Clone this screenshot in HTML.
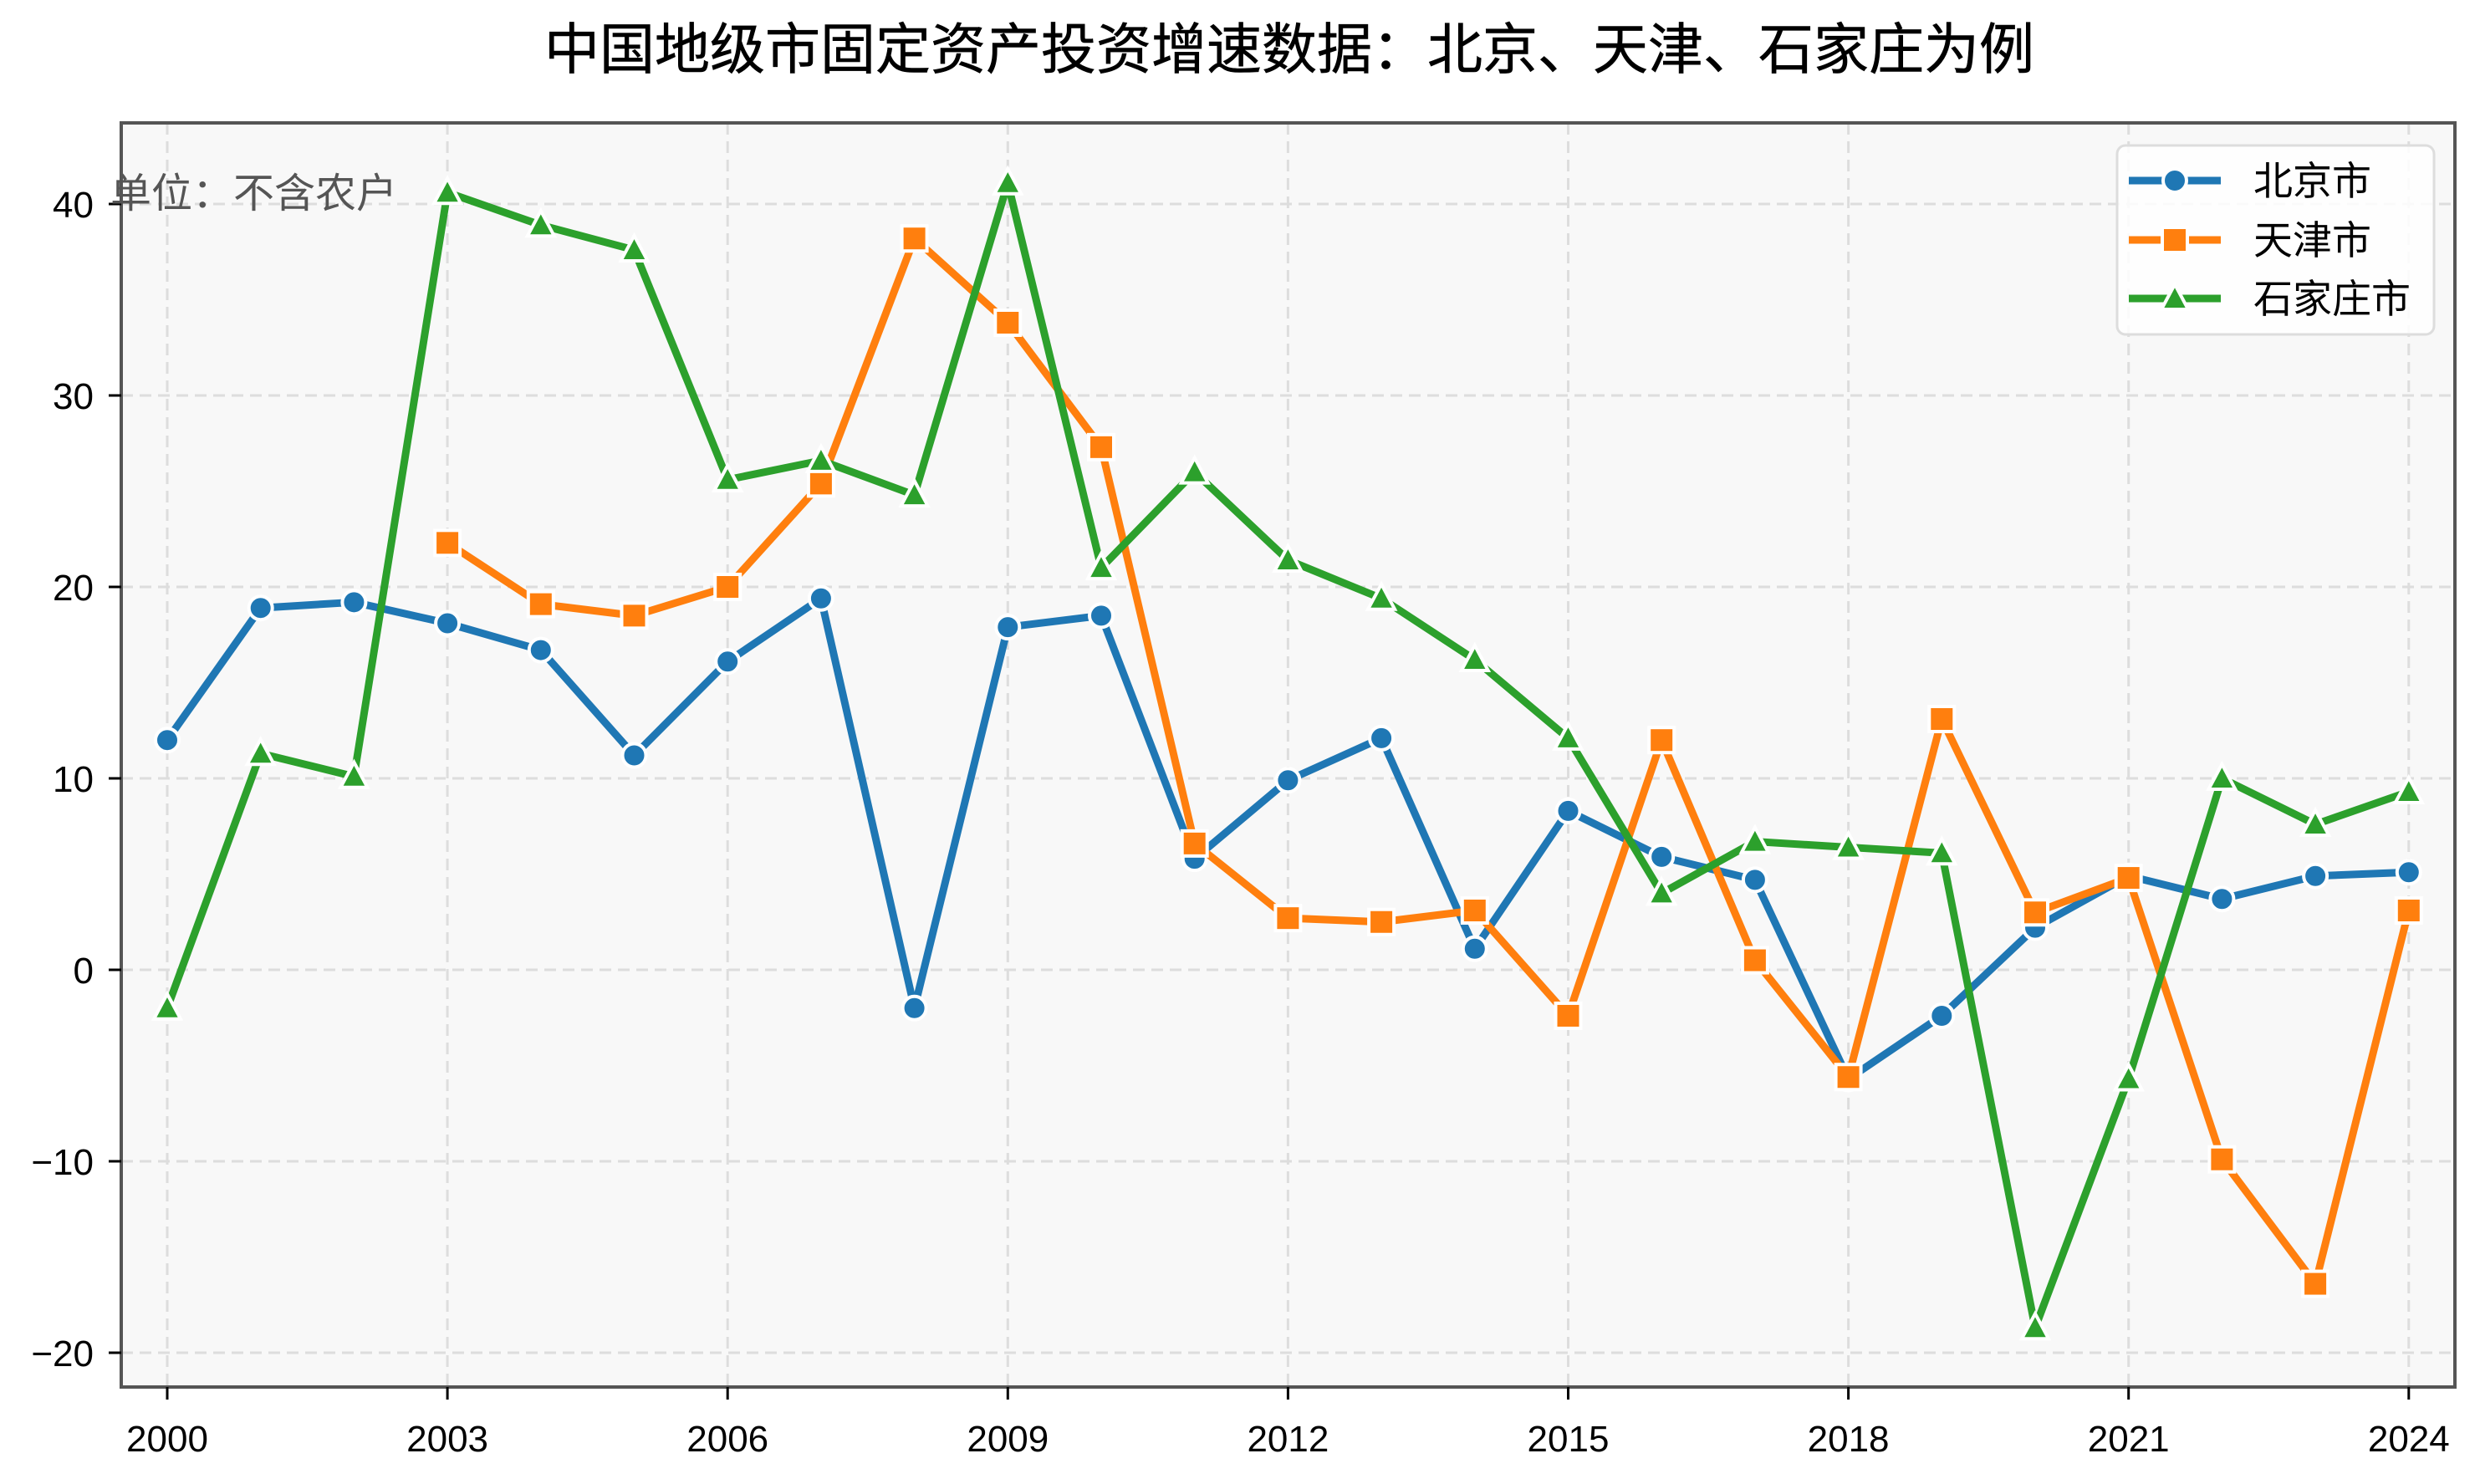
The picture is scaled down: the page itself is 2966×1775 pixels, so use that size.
<!DOCTYPE html>
<html><head><meta charset="utf-8"><style>
html,body{margin:0;padding:0;background:#fff}
svg text{font-family:"Liberation Sans","Noto Sans CJK SC",sans-serif}
</style></head><body>
<svg id="s" width="2966" height="1770" xmlns="http://www.w3.org/2000/svg">
<rect x="0" y="0" width="2966" height="1770" fill="#fff"/>
<text x="1542" y="82" font-size="66" text-anchor="middle" fill="#000" stroke="#000" stroke-width="0.6">中国地级市固定资产投资增速数据：北京、天津、石家庄为例</text>
<rect x="145" y="147" width="2791" height="1512" fill="#f8f8f8"/>
<g id="grid"></g>
<g id="series"></g>
<rect x="145" y="147" width="2791" height="1512" fill="none" stroke="#555" stroke-width="4"/>
<g id="ticks"></g>
<text x="132" y="248" font-size="49" fill="#555">单位：不含农户</text>
<rect x="2532" y="174" width="379" height="226" rx="10" fill="#fff" fill-opacity="0.85" stroke="#ddd" stroke-width="3"/>
<g id="legend"></g>
</svg>
<script>
const NS="http://www.w3.org/2000/svg";
function el(p,t,a,txt){const e=document.createElementNS(NS,t);for(const k in a)e.setAttribute(k,a[k]);if(txt!==undefined)e.textContent=txt;document.getElementById(p).appendChild(e);return e;}
const X=y=>200+(y-2000)*111.7, Y=v=>1160-v*22.9;
for(let y=2000;y<=2024;y+=3){el('grid','line',{x1:X(y),x2:X(y),y1:147,y2:1659,stroke:'#ddd','stroke-width':3,'stroke-dasharray':'14,8'});
 el('ticks','line',{x1:X(y),x2:X(y),y1:1659,y2:1674,stroke:'#000','stroke-width':3});
 el('ticks','text',{x:X(y),y:1736,'font-size':44,'text-anchor':'middle'},String(y));}
for(let v=-20;v<=40;v+=10){el('grid','line',{x1:145,x2:2936,y1:Y(v),y2:Y(v),stroke:'#ddd','stroke-width':3,'stroke-dasharray':'14,8'});
 el('ticks','line',{x1:130,x2:145,y1:Y(v),y2:Y(v),stroke:'#000','stroke-width':3});
 el('ticks','text',{x:112,y:Y(v)+16,'font-size':44,'text-anchor':'end'},(v<0?'−':'')+Math.abs(v));}
const bj=[12,18.9,19.2,18.1,16.7,11.2,16.1,19.4,-2,17.9,18.5,5.8,9.9,12.1,1.1,8.3,5.9,4.7,-5.7,-2.4,2.2,4.9,3.7,4.9,5.1];
const tj=[null,null,null,22.3,19.1,18.5,20.0,25.4,38.2,33.8,27.3,6.6,2.7,2.5,3.1,-2.4,12.0,0.5,-5.6,13.1,3.0,4.8,-9.9,-16.4,3.1];
const sj=[-2.0,11.3,10.1,40.6,38.9,37.6,25.6,26.6,24.8,41.1,21.0,26.0,21.4,19.4,16.2,12.1,4.0,6.7,6.4,6.1,-18.7,-5.7,10.0,7.6,9.3];
function marker(g,type,x,y,c){
 if(type==0)el(g,'circle',{cx:x,cy:y,r:14,fill:c,stroke:'#fff','stroke-width':4});
 else if(type==1)el(g,'rect',{x:x-15,y:y-15,width:30,height:30,fill:c,stroke:'#fff','stroke-width':4});
 else el(g,'polygon',{points:`${x},${y-17} ${x+16},${y+13} ${x-16},${y+13}`,fill:c,stroke:'#fff','stroke-width':4});
}
[[bj,'#1f77b4',0],[tj,'#ff7f0e',1],[sj,'#2ca02c',2]].forEach(([d,c,t])=>{
 const pts=[];d.forEach((v,i)=>{if(v!==null)pts.push([X(2000+i),Y(v)]);});
 el('series','polyline',{points:pts.map(p=>p.join(',')).join(' '),fill:'none',stroke:c,'stroke-width':9,'stroke-linejoin':'round'});
 pts.forEach(p=>marker('series',t,p[0],p[1],c));
});
[['北京市','#1f77b4',216],['天津市','#ff7f0e',287],['石家庄市','#2ca02c',357]].forEach(([n,c,y],i)=>{
 el('legend','line',{x1:2546,x2:2656,y1:y,y2:y,stroke:c,'stroke-width':9});
 marker('legend',i,2601,y,c);
 el('legend','text',{x:2695,y:y+17,'font-size':47},n);
});
</script>
</body></html>
